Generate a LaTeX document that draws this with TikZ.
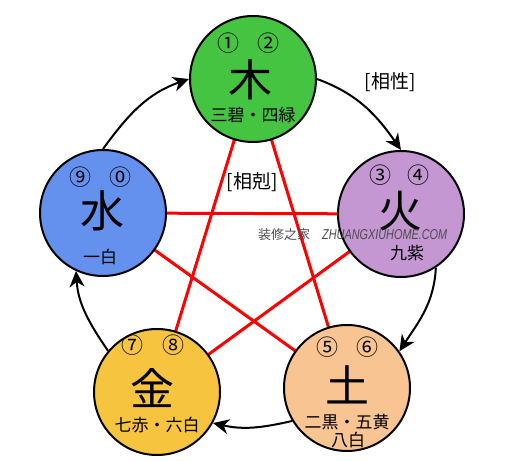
\documentclass[tikz,border=0pt]{standalone}
\usepackage{fontspec}
\newfontfamily\jp{Noto Sans CJK JP}
\newfontfamily\wmfont{Liberation Sans}
\usetikzlibrary{arrows.meta,backgrounds}
\definecolor{woodc}{RGB}{68,196,64}
\definecolor{firec}{RGB}{196,150,210}
\definecolor{earthc}{RGB}{248,196,146}
\definecolor{metalc}{RGB}{246,196,62}
\definecolor{waterc}{RGB}{100,145,238}
\begin{document}
\begin{tikzpicture}[x=1pt,y=1pt,
  elem/.style={circle,draw=black,line width=2pt,minimum size=126pt,inner sep=0pt},
  big/.style={font=\jp\fontsize{44}{44}\selectfont,inner sep=0pt},
  num/.style={font=\jp\fontsize{22}{22}\selectfont,inner sep=0pt},
  lab/.style={font=\jp\fontsize{17}{17}\selectfont,inner sep=0pt},
  title/.style={font=\jp\fontsize{19}{19}\selectfont,inner sep=0pt},
  ke/.style={red,line width=3pt},
  sheng/.style={line width=2pt,-{Stealth[length=16pt,width=15pt,inset=5pt]}}]
\useasboundingbox (0,0) rectangle (515,461);
% element circles
\node[elem,fill=woodc]  (wood)  at (253,382) {};
\node[elem,fill=firec]  (fire)  at (401,247) {};
\node[elem,fill=earthc] (earth) at (347,73) {};
\node[elem,fill=metalc] (metal) at (157,69) {};
\node[elem,fill=waterc] (water) at (103,248) {};
% controlling cycle (red star) behind circles
\begin{pgfonlayer}{background}
\draw[ke] (wood.center) -- (earth.center);
\draw[ke] (wood.center) -- (metal.center);
\draw[ke] (water.center) -- (fire.center);
\draw[ke] (water.center) -- (earth.center);
\draw[ke] (fire.center) -- (metal.center);
\end{pgfonlayer}
% generating cycle
\draw[sheng] (water.90) to[out=54,in=-161] (wood.180);
\draw[sheng] (wood.0) to[out=-20,in=125] (fire.90);
\draw[sheng] (fire.-57) to[out=-93,in=57] (earth.35);
\draw[sheng] (earth.211) to[out=-167,in=-13] (metal.-29);
\draw[sheng] (metal.140) to[out=124,in=-86] (water.-115);
% wood texts
\node[num] (w1) at ([shift={(-25,36)}]wood.center) {①};
\node[num] (w2) at ([shift={(15,36)}]wood.center) {②};
\node[big] (wk) at ([shift={(-3,-1)}]wood.center) {木};
\node[lab] (wl) at ([shift={(0,-36)}]wood.center) {三碧・四緑};
% fire texts
\node[num] (f1) at ([shift={(-21,39)}]fire.center) {③};
\node[num] (f2) at ([shift={(17,39)}]fire.center) {④};
\node[big] (fk) at ([shift={(-1,3)}]fire.center) {火};
\node[lab] (fl) at ([shift={(6,-39)}]fire.center) {九紫};
% earth texts
\node[num] (e1) at ([shift={(-20,41)}]earth.center) {⑤};
\node[num] (e2) at ([shift={(20,41)}]earth.center) {⑥};
\node[big] (ek) at ([shift={(0,3)}]earth.center) {土};
\node[lab] (el) at ([shift={(0,-34)}]earth.center) {二黒・五黄};
\node[lab] (el2) at ([shift={(1,-52)}]earth.center) {八白};
% metal texts
\node[num] (m1) at ([shift={(-25,47)}]metal.center) {⑦};
\node[num] (m2) at ([shift={(16,47)}]metal.center) {⑧};
\node[big] (mk) at ([shift={(-5,4)}]metal.center) {金};
\node[lab] (ml) at ([shift={(0,-33)}]metal.center) {七赤・六白};
% water texts
\node[num] (a1) at ([shift={(-23,36)}]water.center) {⑨};
\node[num] (a2) at ([shift={(17,36)}]water.center) {⓪};
\node[big] (ak) at ([shift={(-1,2)}]water.center) {水};
\node[lab] (al) at ([shift={(-3,-44)}]water.center) {一白};
% titles
\node[title] (sx) at (390,379) {[相性]};
\node[title] (sk) at (252,279) {[相剋]};
% watermark
\node[inner sep=0pt,text=black!70,font=\jp\fontsize{13}{13}\selectfont] (wm1) at (284,226) {装修之家};
\node[inner sep=0pt,text=black!70,anchor=west] (wm2) at (322,226) {\resizebox{125pt}{10pt}{\wmfont\itshape ZHUANGXIUHOME.COM}};
\end{tikzpicture}
\end{document}
